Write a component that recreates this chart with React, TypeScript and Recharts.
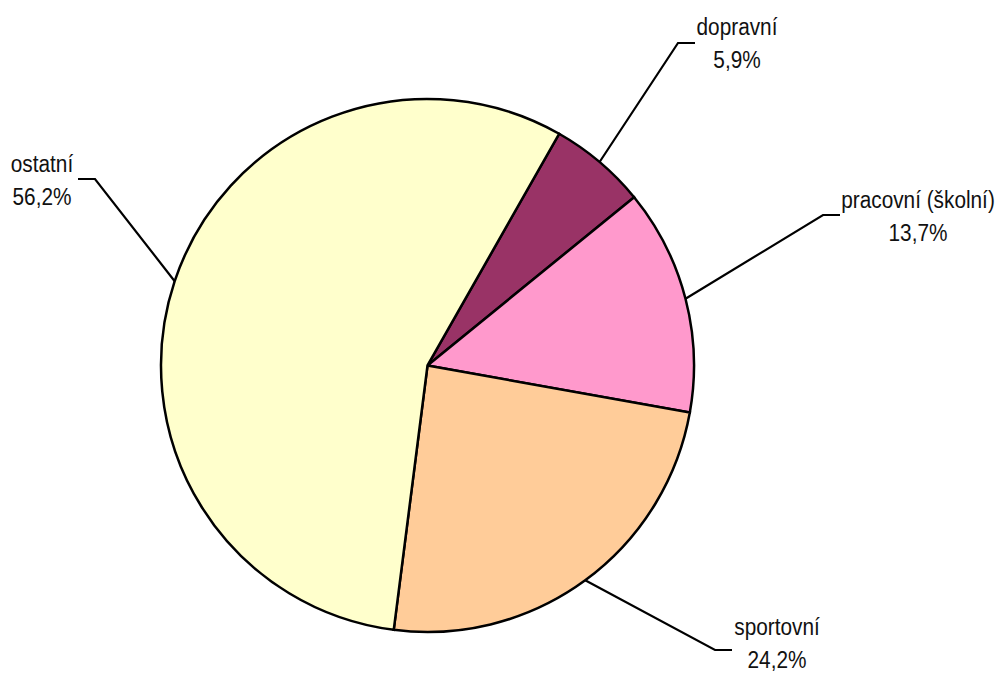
import { PieChart, Pie, Cell } from "recharts";

const categories = ["dopravní", "pracovní (školní)", "sportovní", "ostatní"];
const shares = [5.9, 13.7, 24.2, 56.2];
const colors = ["#993366", "#FF99CC", "#FFCC99", "#FFFFCC"];

// where each leader line bends, and where its two-line label sits (baseline of first line)
const elbows = [
  { x: 678, y: 43, endX: 695, textX: 737, textY: 35 },
  { x: 823, y: 215, endX: 840, textX: 918, textY: 208 },
  { x: 715, y: 650, endX: 732, textX: 777, textY: 635 },
  { x: 95, y: 179, endX: 78, textX: 42, textY: 172 },
];

const data = categories.map((name, i) => ({ name, value: shares[i] }));

const RAD = Math.PI / 180;
const font = "'Liberation Sans', Arial, sans-serif";

function Line2({ x, y, children }: { x: number; y: number; children: string }) {
  // Arial-ish glyphs squeezed a little to look like the narrow face in the original
  return (
    <text
      transform={`translate(${x},${y}) scale(0.885,1)`}
      textAnchor="middle"
      fontFamily={font}
      fontSize={23.5}
      fill="#111"
    >
      {children}
    </text>
  );
}

function renderLabel(props: any) {
  const { cx, cy, outerRadius, midAngle, index, value } = props;
  const sx = cx + outerRadius * Math.cos(-midAngle * RAD);
  const sy = cy + outerRadius * Math.sin(-midAngle * RAD);
  const e = elbows[index];
  return (
    <g key={`lbl-${index}`}>
      <polyline
        points={`${sx},${sy} ${e.x},${e.y} ${e.endX},${e.y}`}
        fill="none"
        stroke="#000"
        strokeWidth={2.2}
      />
      <Line2 x={e.textX} y={e.textY}>{categories[index]}</Line2>
      <Line2 x={e.textX} y={e.textY + 33}>{`${value.toFixed(1).replace(".", ",")}%`}</Line2>
    </g>
  );
}

export default function App() {
  const start = 60.4;
  return (
    <div style={{ position: "absolute", left: 0, top: 0, background: "#fff" }}>
      <PieChart width={1005} height={677} margin={{ top: 0, right: 0, bottom: 0, left: 0 }}>
        <Pie
          data={data}
          dataKey="value"
          nameKey="name"
          cx={427.5}
          cy={365.5}
          outerRadius={266.5}
          startAngle={start}
          endAngle={start - 360}
          stroke="#000"
          strokeWidth={2.5}
          label={renderLabel}
          labelLine={false}
          isAnimationActive={false}
        >
          {data.map((d, i) => (
            <Cell key={d.name} fill={colors[i]} />
          ))}
        </Pie>
      </PieChart>
    </div>
  );
}
